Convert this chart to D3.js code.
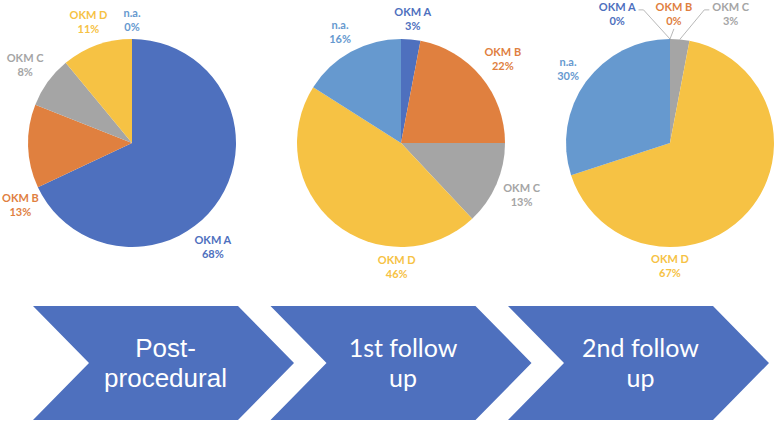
<!DOCTYPE html>
<html>
<head>
<meta charset="utf-8">
<script src="https://cdn.jsdelivr.net/npm/d3@7"></script>
<style>
  body { margin: 0; background: #fff; }
  svg { display: block; }
</style>
</head>
<body>
<div id="chart"></div>
<script>
const categories = ["OKM A", "OKM B", "OKM C", "OKM D", "n.a."]
const stages = ["Post-procedural", "1st follow up", "2nd follow up"]
const postProcedural = [68, 13, 8, 11, 0]
const firstFollowUp = [3, 22, 13, 46, 16]
const secondFollowUp = [0, 0, 3, 67, 30]
const stageLines = [["Post-", "procedural"], ["1st follow", "up"], ["2nd follow", "up"]]

const width = 781
const height = 424

const colors = d3.scaleOrdinal()
  .domain(categories)
  .range(["#4e70be", "#e0803f", "#a5a5a5", "#f6c244", "#6699cf"])

// Labels that Excel pushed away from the slice middle (degrees clockwise from 12 o'clock).
const labelAngle = {"0|OKM A": 142, "0|OKM B": 242, "1|OKM D": 182, "2|OKM D": 180}

const svg = d3.select("#chart")
  .append("svg")
  .attr("width", width)
  .attr("height", height)

const pieX = d3.scalePoint().domain(stages).range([132, 670])
const pieY = 143
const radius = 104
const pie = d3.pie().sort(null).value(d => d.value)
const arc = d3.arc().innerRadius(0).outerRadius(radius)

const series = [postProcedural, firstFollowUp, secondFollowUp]

series.forEach(function (values, si) {
  let data = categories.map((c, i) => ({cat: c, value: values[i]}))
  let arcs = pie(data)

  let g = svg.append("g")
    .attr("transform", "translate(" + pieX(stages[si]) + "," + pieY + ")")

  g.selectAll("path.slice")
    .data(arcs)
    .join("path")
    .attr("class", "slice")
    .attr("d", arc)
    .attr("fill", d => colors(d.data.cat))

  // Build the labels, measure them, then place them just outside the rim.
  let labels = arcs.map(function (a, i) {
    let key = si + "|" + a.data.cat
    let mid = (a.startAngle + a.endAngle) / 2
    let ang = key in labelAngle ? labelAngle[key] * Math.PI / 180 : mid
    return {a: a, i: i, mid: mid, ang: ang, moved: false}
  })

  let lab = g.selectAll("text.lab")
    .data(labels)
    .join("text")
    .attr("class", "lab")
    .attr("text-anchor", "middle")
    .attr("font-family", "Lato, 'Open Sans', sans-serif")
    .attr("font-weight", 700)
    .attr("font-size", 11)
    .attr("fill", d => colors(d.a.data.cat))
  lab.append("tspan").attr("class", "l1").attr("x", 0).attr("y", 0).text(d => d.a.data.cat)
  lab.append("tspan").attr("class", "l2").attr("x", 0).attr("y", 14).text(d => d.a.data.value + "%")

  lab.each(function (d) {
    d.w = d3.max(d3.select(this).selectAll("tspan").nodes(), n => n.getComputedTextLength())
    let ext = d.w / 2 * Math.abs(Math.sin(d.ang)) + 14 * Math.abs(Math.cos(d.ang))
    let dist = radius + 5 + ext
    d.x = Math.max(d.w / 2 + 2 - pieX(stages[si]), dist * Math.sin(d.ang))
    d.y = -dist * Math.cos(d.ang)
  })

  // Group labels that collide (union of all overlapping pairs), then spread them sideways.
  let parent = labels.map((d, i) => i)
  const find = i => parent[i] === i ? i : (parent[i] = find(parent[i]))
  labels.forEach(function (p, i) {
    labels.forEach(function (q, j) {
      if (j <= i) return
      if (Math.abs(p.x - q.x) < (p.w + q.w) / 2 + 4 && Math.abs(p.y - q.y) < 26) {
        parent[find(j)] = find(i)
      }
    })
  })
  let groups = d3.groups(labels, d => find(d.i)).map(e => e[1])
  groups.forEach(function (grp) {
    if (grp.length < 2) return
    grp.sort((p, q) => p.x - q.x || p.i - q.i)
    let step = d3.max(grp, d => d.w) + 20
    let cx = d3.mean(grp, d => d.x)
    let top = d3.min(grp, d => d.y) - 5
    grp.forEach(function (d, k) {
      d.x = cx + (k - (grp.length - 1) / 2) * step
      d.y = top
      d.moved = true
    })
  })

  lab.select(".l1").attr("x", d => d.x).attr("y", d => d.y - 3)
  lab.select(".l2").attr("x", d => d.x).attr("y", d => d.y + 11)

  // Leader lines for labels that were moved.
  g.selectAll("path.leader")
    .data(labels.filter(d => d.moved))
    .join("path")
    .attr("class", "leader")
    .attr("fill", "none")
    .attr("stroke", "#a6a6a6")
    .attr("stroke-width", 0.8)
    .attr("d", function (d) {
      let ex = radius * Math.sin(d.mid)
      let ey = -radius * Math.cos(d.mid)
      let p = d3.path()
      if (d.x + d.w / 2 < ex - 5) {
        p.moveTo(d.x + d.w / 2 + 3, d.y - 4)
        p.lineTo(d.x + d.w / 2 + 8, d.y - 4)
      } else if (d.x - d.w / 2 > ex + 5) {
        p.moveTo(d.x - d.w / 2 - 3, d.y - 4)
        p.lineTo(d.x - d.w / 2 - 8, d.y - 4)
      } else {
        p.moveTo(d.x, d.y + 15)
      }
      p.lineTo(ex, ey)
      return p.toString()
    })
})

// Process chevrons along the bottom.
const chevX = d3.scaleBand().domain(stages).range([33, 33 + 3 * 237.5])
const chevTop = 306
const chevBottom = 420
const chevMid = (chevTop + chevBottom) / 2
const chevBody = 205
const chevDepth = 56

let chev = svg.selectAll("g.chev")
  .data(stages)
  .join("g")
  .attr("class", "chev")
  .attr("transform", d => "translate(" + chevX(d) + ",0)")

chev.append("path")
  .attr("fill", "#4e70be")
  .attr("d", d3.line()([
    [0, chevTop], [chevBody, chevTop], [chevBody + chevDepth, chevMid],
    [chevBody, chevBottom], [0, chevBottom], [chevDepth, chevMid]
  ]) + "Z")

chev.each(function (d, i) {
  let t = d3.select(this).append("text")
    .attr("text-anchor", "middle")
    .attr("fill", "#fff")
    .attr("font-family", i === 0 ? "'Liberation Sans', Arial, sans-serif" : "Lato, 'Open Sans', sans-serif")
    .attr("font-weight", 400)
    .attr("font-size", i === 0 ? 26 : 25)
  stageLines[i].forEach(function (line, j) {
    t.append("tspan")
      .attr("x", (chevBody + chevDepth) / 2 + 2)
      .attr("y", 357 + j * 30)
      .text(line)
  })
})
</script>
</body>
</html>
